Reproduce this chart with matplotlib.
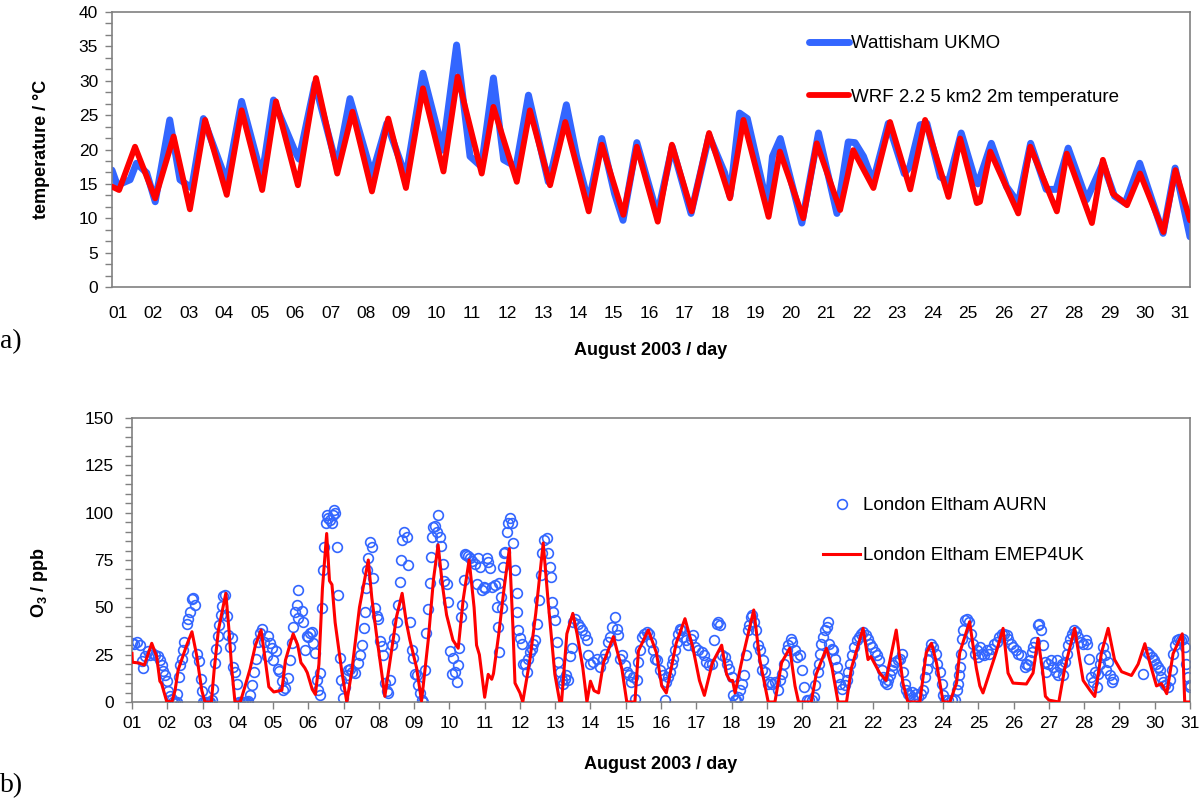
import matplotlib
matplotlib.use("Agg")
from matplotlib import pyplot as plt
from matplotlib.ticker import MultipleLocator

plt.rcParams['font.family'] = ['Liberation Sans', 'DejaVu Sans']
plt.rcParams['mathtext.fontset'] = 'custom'
plt.rcParams['mathtext.rm'] = 'Liberation Sans'
plt.rcParams['mathtext.bf'] = 'Liberation Sans:bold'

# ---- a) 2 m temperature, August 2003 (day of month, degC), turning points
obs_t_day = [0.83, 0.98, 1.34, 1.52, 1.81, 2.05, 2.46, 2.75, 3.08, 3.41, 4.07, 4.49, 5.06, 5.39,
             6.00, 6.11, 6.56, 7.18, 7.55, 8.17, 8.59, 9.13, 9.61, 10.17, 10.56, 10.94, 11.26,
             11.60, 11.89, 12.24, 12.59, 13.15, 13.29, 13.66, 13.95, 14.29, 14.66, 15.02, 15.26,
             15.65, 16.23, 16.65, 17.18, 17.69, 18.13, 18.28, 18.55, 18.77, 19.34, 19.48, 19.70,
             20.31, 20.78, 21.30, 21.62, 21.81, 22.05, 22.32, 22.75, 23.20, 23.36, 23.65, 23.84,
             24.22, 24.45, 24.81, 25.18, 25.28, 25.66, 26.09, 26.42, 26.77, 27.21, 27.49, 27.83,
             28.35, 28.81, 29.14, 29.44, 29.85, 30.51, 30.85, 30.97, 31.27]
obs_t_val = [17.0, 14.8, 15.6, 18.0, 16.6, 12.4, 24.3, 15.6, 14.4, 24.5, 15.3, 27.0, 16.0, 27.2,
             19.7, 18.6, 29.6, 17.5, 27.4, 16.3, 23.8, 16.0, 31.1, 19.9, 35.2, 19.0, 17.5,
             30.4, 18.5, 17.5, 27.9, 15.3, 18.0, 26.5, 19.0, 12.2, 21.6, 13.6, 9.7,
             21.0, 10.5, 20.4, 10.7, 22.0, 16.6, 13.2, 25.3, 24.5, 11.7, 19.0, 21.6,
             9.3, 22.4, 10.7, 21.1, 21.0, 19.0, 15.3, 23.8, 16.5, 17.5, 23.6, 23.8,
             16.0, 15.3, 22.4, 16.0, 15.0, 20.9, 14.6, 12.2, 20.9, 14.2, 14.2, 20.2,
             12.7, 18.0, 13.2, 12.2, 18.0, 7.8, 17.3, 14.5, 7.3]

wrf_t_day = [0.83, 1.03, 1.48, 2.05, 2.57, 3.03, 3.46, 4.07, 4.49, 5.07, 5.46, 6.08, 6.59, 7.19,
             7.62, 8.17, 8.63, 9.13, 9.61, 10.19, 10.59, 11.27, 11.60, 12.26, 12.63, 13.20,
             13.63, 14.29, 14.66, 15.27, 15.65, 16.24, 16.64, 17.20, 17.69, 18.28, 18.66, 19.37,
             19.69, 20.35, 20.73, 21.39, 21.76, 22.33, 22.80, 23.37, 23.79, 24.45, 24.78, 25.25,
             25.34, 25.63, 26.42, 26.76, 27.51, 27.79, 28.50, 28.81, 29.09, 29.49, 29.86, 30.52,
             30.86, 31.27]
wrf_t_val = [14.6, 14.1, 20.4, 12.9, 21.9, 11.3, 24.3, 13.4, 25.7, 14.1, 27.0, 14.8, 30.4, 16.5,
             25.5, 13.9, 24.5, 14.4, 28.9, 16.8, 30.6, 16.5, 26.2, 15.3, 25.7, 14.8,
             24.0, 11.0, 20.7, 10.5, 20.4, 9.5, 20.7, 11.0, 22.4, 12.9, 24.3, 10.2,
             19.7, 10.0, 20.9, 11.2, 19.9, 14.4, 24.0, 14.2, 24.3, 13.1, 21.6, 12.2,
             12.4, 19.7, 10.7, 20.4, 11.0, 19.4, 9.3, 18.5, 13.6, 11.9, 16.5, 8.0,
             17.0, 9.7]

# ---- b) ozone at London Eltham (ppb)
aurn_day = [
    0.99, 1.05, 1.13, 1.23, 1.27, 1.3, 1.37, 1.46, 1.5, 1.56, 1.65, 1.75, 1.8, 1.84, 1.89, 1.94, 1.98,
    2.03, 2.08, 2.13, 2.17, 2.22, 2.27, 2.27, 2.33, 2.36, 2.41, 2.46, 2.48, 2.55, 2.6, 2.64, 2.69, 2.74, 2.79, 2.83, 2.9, 2.95, 2.98,
    3.02, 3.07, 3.12, 3.17, 3.21, 3.28, 3.31, 3.34, 3.37, 3.43, 3.47, 3.51, 3.54, 3.59, 3.64, 3.68, 3.73, 3.78, 3.83, 3.87, 3.92, 3.97,
    4.02, 4.07, 4.11, 4.16, 4.2, 4.25, 4.3, 4.35, 4.39, 4.47, 4.52, 4.56, 4.63, 4.7, 4.75, 4.82, 4.87, 4.91, 4.96,
    5.01, 5.07, 5.13, 5.18, 5.24, 5.29, 5.34, 5.43, 5.48, 5.53, 5.57, 5.62, 5.67, 5.7, 5.72, 5.81, 5.86, 5.91, 5.95,
    6.0, 6.05, 6.09, 6.14, 6.19, 6.24, 6.28, 6.33, 6.33, 6.38, 6.42, 6.45, 6.49, 6.52, 6.57, 6.61, 6.66, 6.7, 6.74, 6.77, 6.8, 6.85, 6.9, 6.94, 6.99,
    7.04, 7.09, 7.13, 7.18, 7.23, 7.32, 7.4, 7.46, 7.53, 7.57, 7.61, 7.63, 7.66, 7.7, 7.75, 7.8, 7.84, 7.89, 7.94, 7.98,
    8.03, 8.08, 8.13, 8.17, 8.22, 8.27, 8.31, 8.36, 8.44, 8.5, 8.55, 8.6, 8.63, 8.67, 8.72, 8.79, 8.84, 8.88, 8.93, 8.98,
    9.02, 9.07, 9.12, 9.17, 9.21, 9.26, 9.31, 9.35, 9.4, 9.45, 9.48, 9.5, 9.54, 9.59, 9.64, 9.69, 9.73, 9.76, 9.81, 9.86, 9.92, 9.97,
    10.02, 10.06, 10.11, 10.16, 10.21, 10.25, 10.27, 10.33, 10.37, 10.42, 10.44, 10.48, 10.52, 10.58, 10.65, 10.73, 10.77, 10.82, 10.87, 10.92, 10.97, 11.01,
    11.06, 11.1, 11.15, 11.2, 11.29, 11.34, 11.39, 11.4, 11.42, 11.45, 11.48, 11.53, 11.55, 11.58, 11.62, 11.67, 11.72, 11.77, 11.81, 11.86, 11.91, 11.93,
    11.95, 12.0, 12.05, 12.1, 12.14, 12.19, 12.24, 12.28, 12.33, 12.38, 12.43, 12.47, 12.54, 12.6, 12.63, 12.69, 12.76, 12.8, 12.85, 12.88, 12.9, 12.95, 12.99,
    13.04, 13.09, 13.14, 13.18, 13.23, 13.28, 13.32, 13.37, 13.42, 13.47, 13.51, 13.56, 13.64, 13.7, 13.77, 13.84, 13.89, 13.94, 13.99,
    14.08, 14.18, 14.27, 14.36, 14.41, 14.49, 14.55, 14.62, 14.69, 14.74, 14.79, 14.84, 14.9, 14.98,
    15.03, 15.09, 15.15, 15.22, 15.26, 15.31, 15.36, 15.4, 15.45, 15.53, 15.59, 15.66, 15.72, 15.78, 15.83, 15.9, 15.97, 16.07,
    16.11, 16.15, 16.2, 16.25, 16.3, 16.35, 16.4, 16.44, 16.49, 16.54, 16.58, 16.63, 16.7, 16.77, 16.85, 16.92, 16.96,
    17.06, 17.15, 17.23, 17.29, 17.36, 17.44, 17.51, 17.58, 17.62, 17.67, 17.74, 17.81, 17.86, 17.93, 18.0,
    18.05, 18.1, 18.14, 18.19, 18.24, 18.3, 18.36, 18.4, 18.46, 18.49, 18.55, 18.59, 18.65, 18.68, 18.74, 18.8, 18.85, 18.9, 18.95,
    19.02, 19.09, 19.16, 19.23, 19.31, 19.37, 19.42, 19.5, 19.56, 19.61, 19.68, 19.72, 19.8, 19.85, 19.94,
    20.01, 20.06, 20.13, 20.2, 20.27, 20.35, 20.38, 20.44, 20.48, 20.51, 20.55, 20.6, 20.65, 20.7, 20.74, 20.76, 20.84, 20.89, 20.93, 20.98,
    21.03, 21.08, 21.12, 21.22, 21.26, 21.31, 21.36, 21.42, 21.48, 21.55, 21.61, 21.67, 21.74, 21.8, 21.86, 21.92, 21.99,
    22.07, 22.12, 22.18, 22.26, 22.3, 22.35, 22.4, 22.45, 22.49, 22.54, 22.59, 22.63, 22.71, 22.78, 22.82, 22.87, 22.92, 22.96,
    23.01, 23.06, 23.11, 23.15, 23.22, 23.29, 23.37, 23.44, 23.48, 23.53, 23.58, 23.63, 23.67, 23.72, 23.79, 23.84, 23.91, 23.96,
    24.0, 24.05, 24.15, 24.24, 24.34, 24.38, 24.41, 24.45, 24.48, 24.52, 24.54, 24.57, 24.62, 24.67, 24.73, 24.79, 24.85, 24.9, 24.95,
    25.0, 25.04, 25.09, 25.17, 25.23, 25.3, 25.37, 25.45, 25.52, 25.58, 25.66, 25.73, 25.8, 25.85, 25.92, 25.99,
    26.06, 26.13, 26.22, 26.32, 26.36, 26.42, 26.46, 26.51, 26.55, 26.6, 26.68, 26.72, 26.77, 26.84, 26.89, 26.91, 26.98,
    27.06, 27.12, 27.19, 27.22, 27.26, 27.31, 27.36, 27.41, 27.45, 27.5, 27.55, 27.59, 27.64, 27.72, 27.78, 27.83, 27.91, 27.97,
    28.04, 28.09, 28.13, 28.19, 28.26, 28.32, 28.35, 28.4, 28.44, 28.49, 28.54, 28.59, 28.63, 28.68, 28.73, 28.8, 28.82,
    29.67, 29.77, 29.83, 29.91, 29.98, 30.05, 30.1, 30.15, 30.19, 30.24, 30.28, 30.38, 30.43, 30.48, 30.52, 30.57, 30.62, 30.69, 30.74, 30.81, 30.86, 30.9, 30.95, 30.99, 31.0]
aurn_o3 = [
    31.0, 30.5, 31.9, 30.2, 21.4, 17.7, 24.1, 26.8, 25.0, 25.9, 25.0, 24.1, 22.0, 19.7, 16.2, 14.4, 10.9,
    5.6, 3.0, 1.8, 0.0, 0.0, 0.0, 4.4, 13.2, 19.4, 22.9, 27.3, 31.7, 41.4, 44.0, 47.5, 54.6, 55.0, 51.0, 25.4, 21.8, 12.0, 5.6,
    0.0, 0.0, 0.0, 0.0, 0.0, 1.0, 6.8, 20.6, 28.0, 34.7, 40.8, 46.1, 50.5, 56.1, 56.6, 45.2, 35.5, 29.3, 33.7, 18.5, 15.8, 9.7,
    0.0, 0.0, 0.0, 0.0, 0.0, 0.0, 0.5, 3.5, 8.8, 15.8, 22.9, 31.7, 36.2, 38.7, 31.7, 24.1, 34.7, 31.0, 28.5,
    22.3, 26.8, 17.2, 16.2, 10.9, 6.5, 7.4, 12.7, 22.3, 31.0, 39.7, 47.5, 51.0, 58.9, 44.2, 48.0, 42.4, 27.3, 34.7,
    34.5, 36.3, 37.1, 31.0, 25.7, 11.6, 6.3, 3.7, 15.1, 49.5, 69.8, 82.1, 94.4, 98.8, 97.0, 96.1, 94.4, 99.0, 101.4, 99.6, 82.0, 56.5, 23.1, 11.6, 1.9,
    8.0, 14.0, 16.9, 17.5, 16.0, 15.1, 20.4, 24.8, 30.1, 38.9, 47.7, 60.0, 69.8, 75.9, 84.7, 82.0, 65.4, 49.8, 45.4, 43.6,
    32.1, 29.5, 25.0, 9.9, 5.6, 4.6, 11.6, 30.1, 33.7, 42.5, 51.3, 63.6, 75.0, 85.6, 90.0, 87.3, 72.3, 42.5, 27.4, 23.0,
    15.0, 14.3, 9.0, 4.6, 1.0, 0.0, 17.0, 36.4, 49.0, 63.0, 76.4, 87.0, 92.2, 93.0, 89.6, 99.0, 87.0, 82.6, 72.9, 64.0, 62.3, 52.6,
    27.0, 15.0, 23.0, 16.0, 10.7, 19.4, 28.3, 45.0, 51.0, 64.5, 78.0, 77.5, 77.0, 76.0, 74.6, 72.9, 62.3, 75.9, 71.5, 59.2, 61.0, 60.0,
    75.9, 74.1, 70.6, 60.9, 61.8, 50.4, 39.8, 62.7, 26.6, 55.7, 49.5, 71.5, 78.5, 79.4, 90.0, 94.4, 97.1, 94.4, 83.8, 69.8, 57.4, 47.7,
    38.0, 33.6, 30.8, 20.2, 20.2, 15.8, 22.9, 26.4, 28.2, 30.8, 32.6, 41.4, 53.7, 66.9, 78.5, 85.5, 86.4, 78.5, 71.5, 66.2, 53.0, 47.7, 43.3,
    31.7, 21.1, 15.8, 11.4, 9.7, 12.3, 14.1, 11.4, 24.1, 28.5, 42.3, 44.0, 41.4, 39.6, 37.9, 35.2, 32.6, 24.6, 20.2,
    21.1, 22.9, 18.5, 22.9, 25.5, 31.7, 34.3, 39.6, 44.9, 38.7, 35.2, 22.9, 24.6, 19.4,
    15.8, 14.1, 10.6, 13.2, 1.8, 11.4, 21.1, 27.3, 34.3, 36.1, 36.9, 36.1, 31.7, 27.3, 22.9, 22.0, 16.7, 14.1,
    0.9, 10.6, 13.2, 15.8, 20.2, 22.9, 27.3, 31.7, 36.1, 38.7, 37.9, 34.3, 32.6, 29.9, 33.4, 35.2, 29.0,
    27.3, 26.4, 24.6, 21.1, 19.4, 20.2, 32.6, 41.4, 42.3, 40.5, 24.6, 23.8, 20.2, 17.6, 13.2,
    3.5, 0.9, 0.9, 2.6, 6.2, 9.7, 14.1, 24.6, 37.9, 40.5, 44.9, 45.8, 42.3, 37.9, 29.9, 27.3, 16.7, 22.0, 15.8,
    9.7, 10.6, 9.7, 10.6, 6.2, 11.4, 15.0, 20.2, 27.3, 29.9, 33.4, 31.7, 27.3, 23.8, 24.6,
    16.7, 7.9, 0.9, 0.9, 0.9, 2.6, 8.8, 15.8, 20.2, 25.5, 30.8, 34.3, 37.9, 39.6, 42.3, 30.8, 28.2, 27.3, 22.9, 18.5,
    13.2, 9.7, 7.1, 8.8, 11.4, 15.8, 20.2, 24.6, 29.0, 32.6, 34.3, 36.1, 36.9, 35.2, 33.4, 30.8, 29.0,
    26.4, 24.6, 22.0, 16.7, 13.2, 10.6, 9.7, 11.4, 14.1, 16.7, 19.4, 21.1, 22.0, 22.9, 25.5, 15.8, 9.7, 6.2,
    4.4, 3.5, 5.3, 1.8, 4.4, 2.6, 4.4, 6.2, 13.2, 17.6, 22.0, 27.3, 30.8, 29.0, 25.5, 20.2, 15.8, 9.7,
    3.5, 0.9, 0.9, 0.9, 0.9, 6.2, 9.7, 14.1, 18.5, 25.5, 33.4, 37.9, 43.1, 44.0, 42.3, 36.1, 30.8, 25.5, 27.3,
    23.8, 29.0, 25.5, 24.6, 27.3, 25.5, 28.2, 30.8, 31.7, 34.3, 36.1, 35.7, 35.2, 33.4, 30.8, 29.0,
    27.3, 25.5, 24.6, 18.5, 20.2, 19.4, 22.0, 26.4, 29.0, 31.7, 40.5, 41.4, 37.9, 29.9, 21.1, 15.8, 20.2,
    22.0, 18.5, 15.8, 22.0, 14.1, 18.5, 20.2, 14.1, 21.1, 25.5, 29.9, 33.4, 36.1, 37.9, 36.9, 34.3, 31.7, 30.8,
    32.6, 30.8, 22.9, 13.2, 10.6, 15.8, 7.9, 15.0, 20.2, 23.8, 29.0, 24.6, 16.7, 21.1, 14.1, 10.6, 12.3,
    15.0, 26.4, 25.5, 23.8, 22.0, 20.2, 18.5, 16.7, 13.2, 10.6, 8.8, 7.9, 11.4, 16.7, 25.5, 29.9, 32.6, 33.4, 32.6, 33.4, 29.0, 20.2, 13.2, 7.9, 9.0]

emep_day = [1.0, 1.01, 1.2, 1.35, 1.56, 1.7, 1.79, 1.84, 1.98, 2.13, 2.22, 2.31, 2.55, 2.7, 2.83, 2.98,
            3.07, 3.25, 3.33, 3.45, 3.66, 3.75, 3.83, 3.92, 4.07, 4.2, 4.35, 4.5, 4.66, 4.78, 4.88,
            5.02, 5.25, 5.35, 5.57, 5.7, 5.79, 5.9, 5.97, 6.11, 6.2, 6.3, 6.4, 6.52, 6.6, 6.67, 6.76,
            6.95, 7.09, 7.23, 7.45, 7.7, 7.8, 7.93, 8.17, 8.36, 8.5, 8.66, 8.78, 8.88, 9.07, 9.21,
            9.4, 9.55, 9.68, 9.8, 9.92, 10.1, 10.25, 10.39, 10.56, 10.7, 10.77, 10.85, 11.0, 11.1,
            11.2, 11.25, 11.4, 11.55, 11.7, 11.8, 11.86, 12.0, 12.08, 12.28, 12.45, 12.66, 12.8,
            12.99, 13.13, 13.18, 13.33, 13.5, 13.62, 13.78, 13.9, 14.0, 14.1, 14.23, 14.37, 14.65,
            14.89, 15.03, 15.26, 15.36, 15.64, 15.87, 16.02, 16.15, 16.43, 16.68, 16.9, 17.09,
            17.23, 17.46, 17.72, 17.86, 17.95, 18.03, 18.1, 18.3, 18.63, 18.8, 19.04, 19.23, 19.42,
            19.65, 19.8, 19.9, 20.26, 20.4, 20.69, 20.85, 21.02, 21.26, 21.4, 21.73, 21.87, 21.95,
            22.2, 22.38, 22.45, 22.67, 22.86, 23.0, 23.34, 23.52, 23.67, 23.81, 24.0, 24.19, 24.38,
            24.47, 24.75, 24.94, 25.04, 25.13, 25.5, 25.7, 25.84, 25.98, 26.36, 26.55, 26.69, 26.83,
            26.9, 27.0, 27.28, 27.45, 27.73, 27.87, 27.97, 28.16, 28.3, 28.49, 28.68, 28.86, 29.06,
            29.34, 29.53, 29.72, 29.86, 30.05, 30.19, 30.34, 30.52, 30.78, 30.85, 31.0]
emep_o3 = [25.7, 21.0, 20.6, 19.5, 31.0, 24.0, 11.0, 9.7, 0.5, 0.0, 6.0, 17.0, 30.0, 37.1, 25.0, 6.0,
           0.0, 0.0, 17.0, 38.0, 57.4, 38.0, 17.0, 0.0, 0.0, 8.0, 17.6, 30.0, 38.0, 22.0, 8.0,
           5.3, 6.2, 22.0, 36.0, 30.0, 20.8, 18.0, 15.5, 6.7, 4.0, 20.0, 60.0, 89.0, 64.0, 62.0, 42.0,
           16.0, 0.0, 16.0, 50.0, 75.0, 55.0, 36.0, 3.0, 27.0, 45.0, 57.4, 42.0, 32.7, 18.0, 0.5,
           32.7, 65.0, 83.0, 62.0, 46.0, 32.7, 28.4, 54.0, 75.0, 50.0, 30.0, 25.0, 2.5, 14.6,
           12.0, 15.0, 36.0, 60.0, 81.0, 40.0, 10.0, 4.8, 0.0, 22.0, 47.0, 84.0, 53.0,
           14.6, 0.0, 0.0, 36.0, 46.8, 36.0, 18.5, 0.0, 11.0, 6.0, 4.8, 20.8, 34.5,
           17.6, 0.0, 0.0, 27.0, 38.0, 26.0, 8.5, 4.8, 31.0, 44.0, 29.0, 11.4,
           3.5, 20.8, 30.0, 14.6, 11.4, 11.4, 4.8, 22.4, 48.6, 22.4, 0.0, 0.0, 20.8,
           28.4, 8.5, 0.0, 0.0, 14.6, 28.4, 18.0, 0.0, 0.0, 18.0, 38.9, 22.4, 24.0,
           15.3, 11.4, 18.0, 38.0, 10.0, 0.0, 0.0, 26.0, 31.0, 20.8, 0.0, 0.0, 10.0,
           26.0, 42.4, 18.0, 8.5, 4.8, 26.0, 38.9, 15.3, 10.0, 9.5, 15.3, 33.6, 15.0,
           3.0, 1.0, 0.0, 18.0, 38.9, 22.4, 11.4, 6.3, 2.9, 26.0, 38.9, 22.4, 16.0,
           14.0, 20.0, 30.8, 20.8, 8.5, 9.7, 4.4, 25.5, 36.0, 0.0, 0.0]

day_labels = ["%02d" % d for d in range(1, 32)]

blue = "#3366ff"
red = "#ff0000"
spine_grey = "#808080"

fig = plt.figure(figsize=(12, 8), dpi=100)

# ---------------- panel a ----------------
ax1 = fig.add_axes([112 / 1200, 1 - 287 / 800, 1078 / 1200, 275 / 800])
ax1.plot(obs_t_day, obs_t_val, color=blue, lw=5.0, solid_joinstyle="round",
         solid_capstyle="round", label="Wattisham UKMO", zorder=2)
ax1.plot(wrf_t_day, wrf_t_val, color=red, lw=4.2, solid_joinstyle="round",
         solid_capstyle="round", label="WRF 2.2 5 km2 2m temperature", zorder=3)
ax1.set_xlim(0.83, 31.27)
ax1.set_ylim(0, 40)
ax1.yaxis.set_major_locator(MultipleLocator(5))
ax1.yaxis.set_minor_locator(MultipleLocator(5 / 3))
ax1.set_xticks(range(1, 32))
ax1.set_xticklabels(day_labels)
ax1.tick_params(axis="x", length=0, pad=14, labelsize=12.5)
ax1.tick_params(axis="y", which="both", direction="out", length=5, width=1,
                color=spine_grey, labelsize=12.5, pad=5)
ax1.set_xlabel("August 2003 / day", fontsize=13, fontweight="bold", labelpad=15)
ax1.set_ylabel("temperature / \u00b0C", fontsize=13, fontweight="bold")
ax1.yaxis.set_label_coords(-0.0575, 0.5)
for s in ax1.spines.values():
    s.set_color(spine_grey)
    s.set_linewidth(1.2)
ax1.legend(loc="upper left", bbox_to_anchor=(0.647, 0.915), borderaxespad=0, borderpad=0,
           frameon=False, fontsize=13.5, handlelength=2.1, handletextpad=0.1,
           labelspacing=1.92)

# ---------------- panel b ----------------
ax2 = fig.add_axes([132 / 1200, 1 - 702 / 800, 1058 / 1200, 284 / 800])
ax2.plot(aurn_day, aurn_o3, linestyle="none", marker="o", markersize=7, markerfacecolor="none",
         markeredgecolor=blue, markeredgewidth=1.2, label="London Eltham AURN", zorder=2)
ax2.plot(emep_day, emep_o3, color=red, lw=2.2, label="London Eltham EMEP4UK", zorder=3)
ax2.set_xlim(1, 31)
ax2.set_ylim(0, 150)
ax2.yaxis.set_major_locator(MultipleLocator(25))
ax2.yaxis.set_minor_locator(MultipleLocator(5))
ax2.set_xticks(range(1, 32))
ax2.set_xticklabels(day_labels)
ax2.tick_params(axis="x", direction="out", length=5, width=1, color=spine_grey,
                labelsize=12.5, pad=5)
ax2.tick_params(axis="y", which="both", direction="out", length=5, width=1,
                color=spine_grey, labelsize=12.5, pad=8)
ax2.set_xlabel("August 2003 / day", fontsize=13, fontweight="bold", labelpad=18)
ax2.set_ylabel(r"$\mathbf{O_3}$ / ppb", fontsize=13, fontweight="bold")
ax2.yaxis.set_label_coords(-0.0775, 0.42)
for s in ax2.spines.values():
    s.set_color(spine_grey)
    s.set_linewidth(1.2)
ax2.legend(loc="upper left", bbox_to_anchor=(0.653, 0.722), borderaxespad=0, borderpad=0,
           frameon=False, fontsize=13.5, handlelength=2.0, handletextpad=0.15,
           labelspacing=1.77)

fig.text(0.0, 1 - 342 / 800, "a)", fontsize=20, family="Liberation Serif", va="center")
fig.text(0.0, 1 - 786 / 800, "b)", fontsize=20, family="Liberation Serif", va="center")

fig.savefig("out.png", dpi=100)
